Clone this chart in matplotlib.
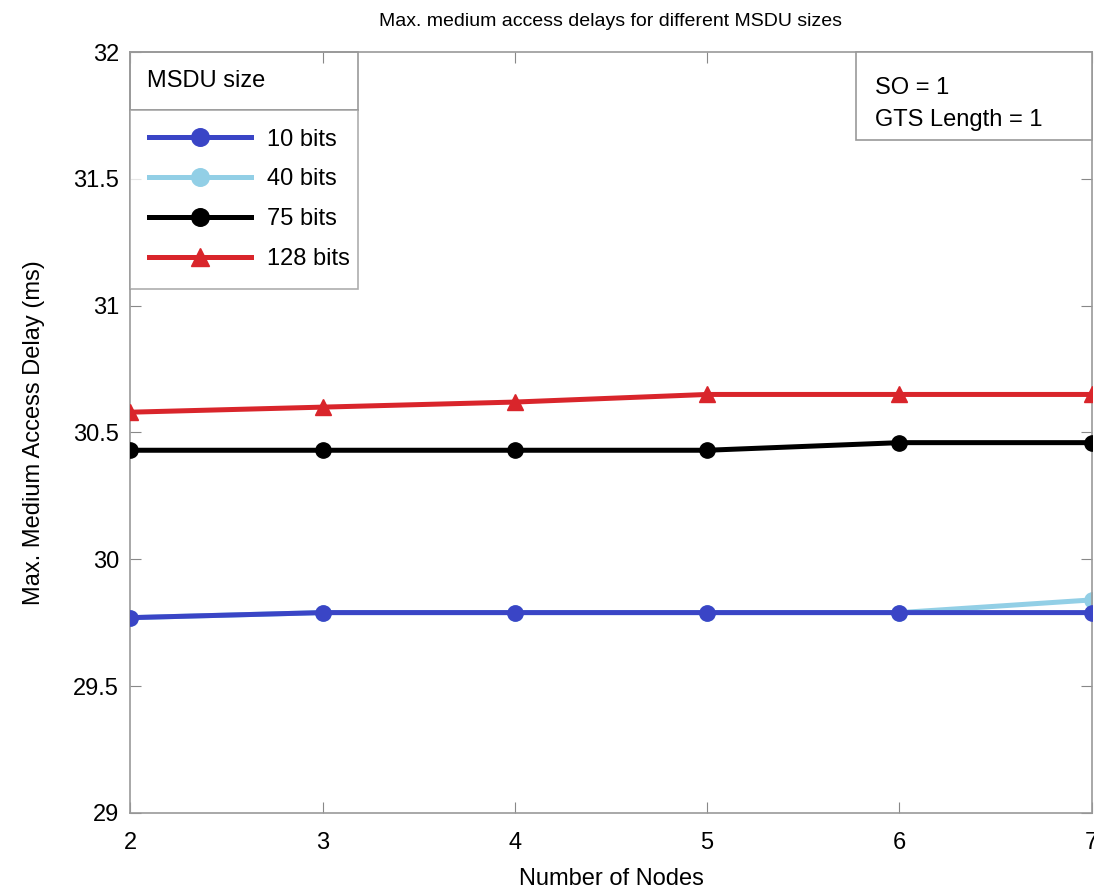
import numpy as np
import matplotlib
matplotlib.use('Agg')
import matplotlib.pyplot as plt

plt.rcParams['font.family'] = ['Liberation Sans', 'DejaVu Sans']

# datos
nodos = [2, 3, 4, 5, 6, 7]
d10 = [29.77, 29.79, 29.79, 29.79, 29.79, 29.79]
d40 = [29.77, 29.79, 29.79, 29.79, 29.79, 29.84]
d75 = [30.43, 30.43, 30.43, 30.43, 30.46, 30.46]
d128 = [30.58, 30.60, 30.62, 30.65, 30.65, 30.65]
etiquetas = ['10 bits', '40 bits', '75 bits', '128 bits']
yticks = [29, 29.5, 30, 30.5, 31, 31.5, 32]

fig = plt.figure(figsize=(10.94, 8.89), dpi=100)
ax = fig.add_axes([0.119, 0.0855, 0.879, 0.856])

l2, = ax.plot(nodos, d40, '-o', color='#92cfe6', lw=3.6, ms=11, zorder=2, label=etiquetas[1])
l1, = ax.plot(nodos, d10, '-o', color='#3a45c6', lw=3.6, ms=11, zorder=3, label=etiquetas[0])
l3, = ax.plot(nodos, d75, '-o', color='black', lw=3.6, ms=11, zorder=3, label=etiquetas[2])
l4, = ax.plot(nodos, d128, '-^', color='#d9252b', lw=3.6, ms=11, zorder=3, label=etiquetas[3])

ax.set_xlim(2, 7)
ax.set_ylim(29, 32)
ax.set_xticks(nodos)
ax.set_yticks(yticks)
ax.set_yticklabels(['29', '29.5', '30', '30.5', '31', '31.5', '32'])
ax.tick_params(direction='in', top=True, right=True, labelsize=17, length=8, color='#888888')
ax.tick_params(axis='x', pad=14)
ax.tick_params(axis='y', pad=8)
for s in ax.spines.values():
    s.set_color('#999999')
    s.set_linewidth(1.2)

ax.set_title('Max. medium access delays for different MSDU sizes', fontsize=14, pad=19)
ax.set_xlabel('Number of Nodes', fontsize=17, labelpad=10)
ax.set_ylabel('Max. Medium Access Delay (ms)', fontsize=17, labelpad=20)

# leyenda tipo matlab: titulo en su propia caja
leg = ax.legend(handles=[l1, l2, l3, l4], loc='upper left',
                bbox_to_anchor=(0.0, 0.69, 0.237, 0.234), mode='expand',
                fontsize=17, frameon=True, fancybox=False, edgecolor='#999999',
                handlelength=4.3, borderpad=0.8, labelspacing=0.75, handletextpad=0.7,
                borderaxespad=0, markerscale=1.15)
leg.get_frame().set_linewidth(1.2)
ax.add_patch(plt.Rectangle((0, 0.924), 0.237, 0.076, transform=ax.transAxes,
                           fill=False, edgecolor='#999999', lw=1.2, clip_on=False, zorder=5))
ax.text(0.018, 0.962, 'MSDU size', transform=ax.transAxes, fontsize=17, va='center', ha='left')

# caja de parametros
ax.add_patch(plt.Rectangle((0.755, 0.884), 0.245, 0.116, transform=ax.transAxes,
                           fc='white', edgecolor='#999999', lw=1.2, clip_on=False, zorder=5))
ax.text(0.775, 0.953, 'SO = 1', transform=ax.transAxes, fontsize=17, va='center', ha='left', zorder=6)
ax.text(0.775, 0.910, 'GTS Length = 1', transform=ax.transAxes, fontsize=17, va='center', ha='left', zorder=6)

fig.savefig('out.png', dpi=100)
